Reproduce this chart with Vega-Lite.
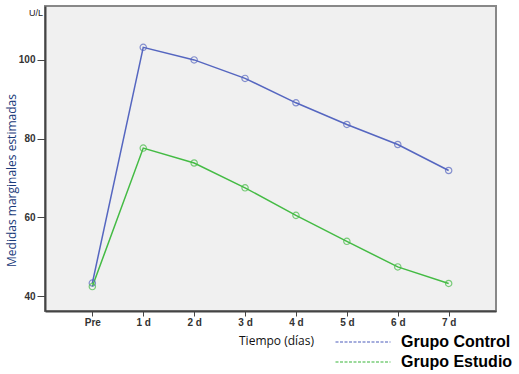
{
  "$schema": "https://vega.github.io/schema/vega-lite/v6.json",
  "width": 451,
  "height": 305,
  "autosize": "none",
  "padding": {"left": 45, "top": 6, "right": 23, "bottom": 63},
  "background": "white",
  "title": {"text": "U/L", "anchor": "start", "frame": "group", "fontSize": 9, "font": "Liberation Sans", "fontWeight": "normal", "color": "#222", "dx": -16, "dy": 16},
  "config": {
    "view": {"fill": "#f0f0f0", "stroke": "#888888", "strokeWidth": 2},
    "axis": {"grid": false, "domainColor": "#444", "domainWidth": 2, "tickColor": "#444", "labelFont": "Liberation Sans", "labelFontWeight": "bold", "labelFontSize": 10, "labelColor": "#333"}
  },
  "data": {"values": [
    {"t": "Pre", "g": "Grupo Control", "v": 43.3},
    {"t": "1 d", "g": "Grupo Control", "v": 103.2},
    {"t": "2 d", "g": "Grupo Control", "v": 100.0},
    {"t": "3 d", "g": "Grupo Control", "v": 95.3},
    {"t": "4 d", "g": "Grupo Control", "v": 89.1},
    {"t": "5 d", "g": "Grupo Control", "v": 83.6},
    {"t": "6 d", "g": "Grupo Control", "v": 78.5},
    {"t": "7 d", "g": "Grupo Control", "v": 71.9},
    {"t": "Pre", "g": "Grupo Estudio", "v": 42.4},
    {"t": "1 d", "g": "Grupo Estudio", "v": 77.6},
    {"t": "2 d", "g": "Grupo Estudio", "v": 73.8},
    {"t": "3 d", "g": "Grupo Estudio", "v": 67.5},
    {"t": "4 d", "g": "Grupo Estudio", "v": 60.5},
    {"t": "5 d", "g": "Grupo Estudio", "v": 53.9},
    {"t": "6 d", "g": "Grupo Estudio", "v": 47.4},
    {"t": "7 d", "g": "Grupo Estudio", "v": 43.2}
  ]},
  "encoding": {
    "x": {"field": "t", "type": "ordinal", "sort": ["Pre", "1 d", "2 d", "3 d", "4 d", "5 d", "6 d", "7 d"],
      "scale": {"type": "point", "padding": 0.93},
      "axis": {"title": "Tiempo (días)", "labelAngle": 0, "tickSize": 5, "labelPadding": 1, "titleFont": "Open Sans", "titleFontWeight": "normal", "titleFontSize": 12, "titleColor": "#111", "titleX": 231, "titleY": 29, "titleBaseline": "middle"}},
    "y": {"field": "v", "type": "quantitative", "scale": {"domain": [36.2, 113.7], "nice": false, "zero": false},
      "axis": {"title": "Medidas marginales estimadas", "values": [40, 60, 80, 100], "tickSize": 8, "labelPadding": 2, "titleFont": "Open Sans", "titleFontWeight": "normal", "titleFontSize": 12, "titleColor": "#1a3a7a", "titleX": -34, "titleY": 174, "titleAngle": -90, "titleAlign": "center", "titleBaseline": "middle"}},
    "color": {"field": "g", "type": "nominal", "scale": {"domain": ["Grupo Control", "Grupo Estudio"], "range": ["#5566c0", "#44bb44"]},
      "legend": {"title": null, "orient": "none", "legendX": 307, "legendY": 325, "symbolType": "M-2.75,0H2.75", "symbolSize": 400, "symbolStrokeWidth": 1.5, "symbolDash": [3, 1.5], "symbolFillColor": "transparent", "labelFont": "Liberation Sans", "labelFontWeight": "bold", "labelFontSize": 16, "labelColor": "#000", "rowPadding": 1, "labelOffset": 27, "symbolOffset": 0}}
  },
  "layer": [
    {"mark": {"type": "line", "strokeWidth": 1.5}},
    {"mark": {"type": "point", "filled": false, "size": 40, "strokeWidth": 1.2}}
  ]
}
